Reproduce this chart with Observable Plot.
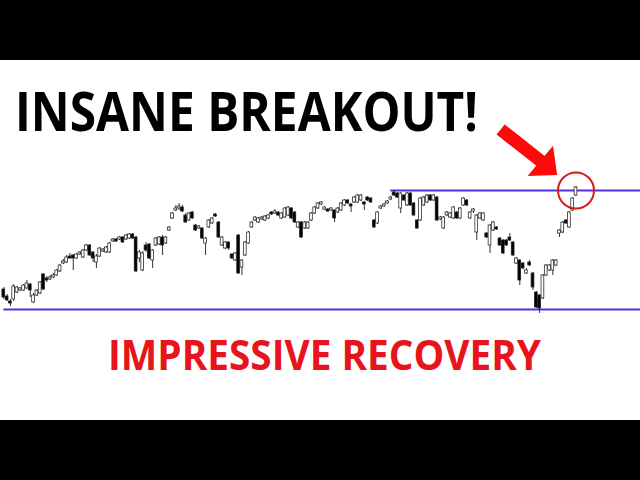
<!DOCTYPE html>
<html>
<head>
<meta charset="utf-8">
<script src="https://cdn.jsdelivr.net/npm/d3@7"></script>
<script src="https://cdn.jsdelivr.net/npm/@observablehq/plot@0.6"></script>
<style>
  html, body { margin: 0; padding: 0; background: #000; width: 640px; height: 480px; overflow: hidden; }
  #panel { position: absolute; left: 0; top: 60px; width: 640px; height: 360px; background: #fff; overflow: hidden; }
  #chart { position: absolute; left: 0; top: 0; }
  .headline { position: absolute; font-family: "Open Sans", sans-serif; font-weight: 700; line-height: 1; white-space: nowrap; transform-origin: 0 0; }
  #title { left: 15px; top: 24px; font-size: 53px; color: #000; }
  #subtitle { left: 108px; top: 273px; font-size: 42px; color: #e8141b; }
</style>
</head>
<body>
<div id="panel">
  <div id="chart"></div>
  <div id="title" class="headline">INSANE BREAKOUT!</div>
  <div id="subtitle" class="headline">IMPRESSIVE RECOVERY</div>
</div>
<script>
// ---- data (price units) ----
const open = [3410,3340,3290,3310,3380,3400,3400,3420,3460,3280,
3350,3370,3560,3520,3510,3530,3550,3590,3670,3680,
3740,3750,3720,3760,3730,3800,3850,3780,3680,3740,
3790,3780,3780,3890,3910,3910,3930,3910,3920,3960,
3930,3720,3600,3850,3860,3700,3850,3860,3930,3870,
4000,4120,4200,4220,4230,4150,4100,4180,4050,4020,
4020,3870,4030,4070,4160,4080,3850,3820,3880,3760,
3700,3950,3630,3750,3870,4030,4100,4080,4110,4100,
4120,4180,4170,4180,4120,4130,4150,4220,4180,4030,
4080,4020,4020,4100,4170,4220,4260,4210,4210,4200,
4200,4180,4200,4250,4300,4260,4280,4280,4300,4280,
4330,4320,4100,4070,4220,4240,4270,4310,4380,4370,
4220,4350,4250,4370,4270,4100,4100,4250,4280,4350,
4300,4330,4110,4020,4150,4130,4120,4180,4120,4250,
4300,4120,4190,3980,4120,4100,3970,3850,4000,4030,
3920,3900,3900,3930,3880,3670,3700,3670,3570,3680,
3570,3380,3350,3320,3550,3600,3600,3650,3970,3980,
4100,4030,4200,4350];
const close = [3330,3300,3270,3440,3430,3420,3450,3470,3400,3350,
3400,3480,3410,3500,3530,3550,3600,3650,3690,3730,
3720,3720,3760,3780,3800,3850,3750,3720,3740,3820,
3810,3830,3870,3910,3890,3930,3880,3950,3960,3920,
3590,3780,3770,3800,3720,3800,3920,3930,3850,3930,
4030,4170,4220,4240,4190,4080,4170,4120,4000,4040,
3920,3920,4100,4120,4140,3930,3930,3880,3820,3720,
3770,3570,3700,3880,3980,4080,4130,4120,4130,4140,
4150,4160,4190,4150,4170,4220,4230,4120,4080,4080,
3930,4080,4080,4170,4230,4270,4280,4230,4190,4220,
4120,4220,4270,4300,4270,4240,4330,4350,4350,4260,
4300,4280,4030,4180,4240,4260,4290,4330,4350,4330,
4370,4300,4370,4250,4150,4020,4320,4330,4350,4300,
4350,4100,4130,4130,4180,4170,4230,4120,4220,4320,
4250,4180,4210,4150,4170,4170,3930,4050,4080,4010,
3850,3770,3850,3900,3750,3720,3500,3620,3600,3650,
3430,3230,3220,3550,3650,3650,3700,3700,4000,4080,
4070,4180,4320,4430];
const high = [3430,3360,3310,3460,3440,3430,3460,3500,3470,3370,
3410,3490,3570,3540,3550,3570,3610,3660,3710,3750,
3770,3760,3770,3790,3810,3860,3860,3790,3760,3830,
3820,3840,3880,3920,3920,3940,3940,3960,3970,3970,
3940,3800,3790,3880,3870,3810,3930,3940,3950,3940,
4040,4180,4250,4270,4250,4170,4180,4190,4060,4050,
4030,3930,4110,4130,4170,4090,3940,3890,3890,3770,
3780,3960,3710,3890,3990,4090,4140,4130,4140,4150,
4160,4190,4210,4190,4180,4230,4240,4230,4190,4090,
4090,4090,4090,4180,4240,4280,4290,4240,4220,4230,
4210,4230,4280,4310,4310,4270,4340,4360,4360,4290,
4340,4330,4110,4190,4250,4270,4300,4340,4400,4380,
4380,4360,4380,4380,4280,4110,4330,4340,4360,4360,
4360,4340,4140,4140,4190,4180,4240,4190,4230,4330,
4310,4190,4220,4160,4180,4180,3980,4060,4090,4040,
3930,3910,3910,3970,3890,3730,3710,3680,3620,3700,
3580,3390,3360,3560,3660,3660,3710,3710,4010,4090,
4110,4190,4330,4440];
const low = [3310,3290,3240,3290,3370,3390,3390,3410,3330,3270,
3340,3360,3400,3480,3500,3520,3540,3580,3660,3670,
3710,3600,3710,3750,3720,3790,3740,3680,3620,3730,
3780,3770,3770,3880,3880,3900,3870,3900,3910,3910,
3580,3680,3590,3780,3710,3620,3840,3850,3750,3860,
3990,4110,4190,4200,4180,4070,4090,4110,3990,4010,
3910,3750,4020,4060,4130,3920,3840,3810,3800,3710,
3690,3560,3550,3740,3860,4020,4090,4070,4100,4090,
4110,4150,4160,4140,4110,4120,4140,4110,4070,4020,
3920,4010,4010,4090,4160,4210,4250,4200,4180,4190,
4080,4170,4190,4240,4260,4180,4270,4270,4290,4200,
4290,4270,4020,4060,4210,4230,4260,4300,4340,4320,
4170,4290,4240,4240,4140,4010,4090,4240,4270,4290,
4290,4090,4100,4010,4140,4120,4110,4110,4110,4240,
4240,4110,4170,3900,4110,4090,3920,3770,3990,4000,
3840,3760,3840,3890,3740,3660,3450,3610,3560,3640,
3400,3220,3170,3310,3540,3590,3550,3640,3930,3970,
4060,4020,4190,4340];

// horizontal levels: resistance (top) and support (bottom)
const levelPrice = [4400, 3210];
const levelStart = [117, 0];

// annotation anchors (candle index, price)
const circleAt = {i: 173, price: 4400};
const arrowFrom = {i: 150.2, price: 5010};
const arrowTo = {i: 162.9, price: 4680};
const arrowTip = {i: 167.3, price: 4555};

// ---- build ----
const candles = open.map((o, i) => ({i, open: o, close: close[i], high: high[i], low: low[i]}));
const levels = levelPrice.map((p, k) => ({price: p, from: levelStart[k]}));
const xMax = 192.5;

// arrow head symbol: tip at origin, pointing down-right
const headSymbol = {
  draw(ctx, size) {
    const r = Math.sqrt(size / Math.PI);
    const a = 40 * Math.PI / 180;
    const ux = Math.cos(a), uy = Math.sin(a);
    const nx = -uy, ny = ux;
    const L = r, W = 0.9 * r;
    const bx = -L * ux, by = -L * uy;
    ctx.moveTo(0, 0);
    ctx.lineTo(bx + W * nx, by + W * ny);
    ctx.lineTo(bx - W * nx, by - W * ny);
    ctx.closePath();
  }
};

const chart = Plot.plot({
  width: 640,
  height: 360,
  margin: 0,
  style: {background: "transparent", overflow: "visible"},
  x: {domain: [-1, xMax], axis: null},
  y: {domain: [2100, 5700], axis: null},
  marks: [
    Plot.ruleY(levels, {y: "price", x1: "from", x2: () => xMax, stroke: "#5530e0", strokeWidth: 2}),
    Plot.ruleX(candles, {x: "i", y1: "low", y2: "high", stroke: "#333", strokeWidth: 1}),
    Plot.rect(candles, {
      x1: d => d.i - 0.42, x2: d => d.i + 0.42,
      y1: "open", y2: "close",
      fill: d => d.close >= d.open ? "#fff" : "#000",
      stroke: "#222", strokeWidth: 0.75
    }),
    Plot.dot([circleAt], {x: "i", y: "price", r: 18, stroke: "#d01c1c", strokeWidth: 2, fill: "none"}),
    Plot.link([{from: arrowFrom, to: arrowTo}], {
      x1: d => d.from.i, y1: d => d.from.price, x2: d => d.to.i, y2: d => d.to.price,
      stroke: "#ff0a0a", strokeWidth: 13, strokeLinecap: "butt"
    }),
    Plot.dot([arrowTip], {x: "i", y: "price", symbol: headSymbol, r: 22, fill: "#ff0a0a", stroke: "none"})
  ]
});
document.getElementById("chart").appendChild(chart);

// fit headlines to their widths
function fit(id, w) {
  const el = document.getElementById(id);
  el.style.transform = "none";
  const mw = el.getBoundingClientRect().width;
  if (mw > 0) el.style.transform = `scaleX(${w / mw})`;
}
function fitAll() { fit("title", 463); fit("subtitle", 433); }
fitAll();
if (document.fonts && document.fonts.ready) document.fonts.ready.then(fitAll);
</script>
</body>
</html>
